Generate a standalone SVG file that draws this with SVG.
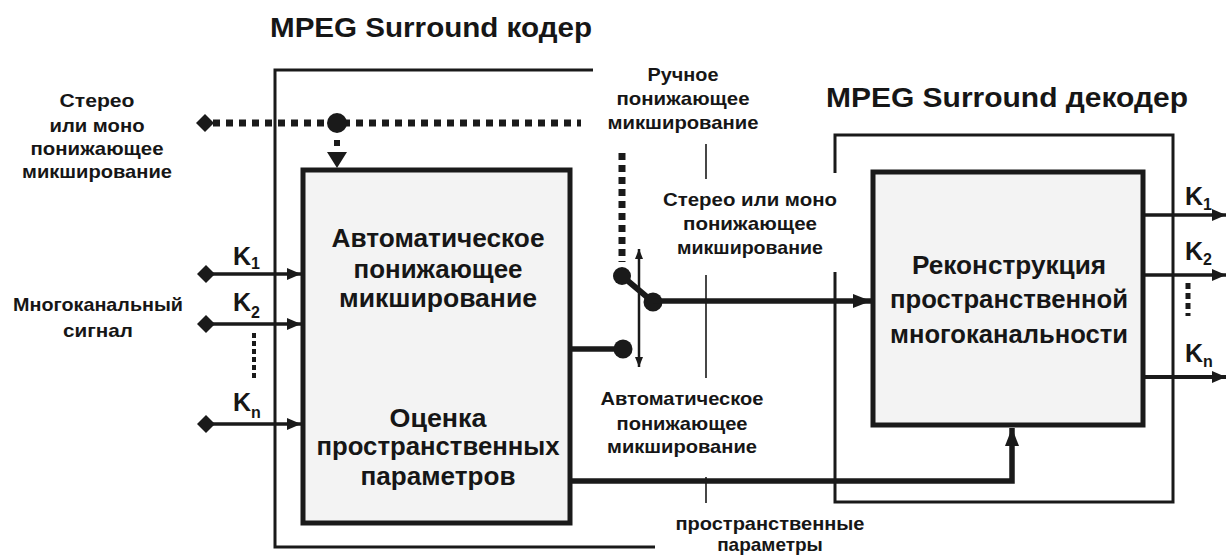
<svg xmlns="http://www.w3.org/2000/svg" width="1229" height="556" viewBox="0 0 1229 556">
<style>
.t{font-family:"Liberation Sans",Arial,sans-serif;font-weight:bold;fill:#161616}
.s{font-size:19px}
.m{font-size:26px}
.h{font-size:28px}
.k{font-size:25px}
.sub{font-size:16px}
.c{text-anchor:middle}
.frame{fill:none;stroke:#1a1a1a;stroke-width:3}
.box{fill:#f3f3f3;stroke:#1a1a1a;stroke-width:5}
.thin{fill:none;stroke:#1a1a1a;stroke-width:1.6}
.ln{fill:none;stroke:#1a1a1a}
.dot{fill:#1a1a1a}
</style>
<defs>
<marker id="arr" viewBox="0 0 14 12" refX="14" refY="6" markerWidth="14" markerHeight="12" markerUnits="userSpaceOnUse" orient="auto">
<path d="M0,0 L14,6 L0,12 z" fill="#1a1a1a"/>
</marker>
<marker id="arrB" viewBox="0 0 18 14" refX="18" refY="7" markerWidth="18" markerHeight="14" markerUnits="userSpaceOnUse" orient="auto">
<path d="M0,0 L18,7 L0,14 z" fill="#1a1a1a"/>
</marker>
<marker id="sm" viewBox="0 0 10 8" refX="10" refY="4" markerWidth="10" markerHeight="8" markerUnits="userSpaceOnUse" orient="auto-start-reverse">
<path d="M0,0 L10,4 L0,8 z" fill="#1a1a1a"/>
</marker>
<marker id="dia" viewBox="0 0 18 18" refX="9" refY="9" markerWidth="18" markerHeight="18" markerUnits="userSpaceOnUse" orient="0">
<path d="M0,9 L9,0 L18,9 L9,18 z" fill="#1a1a1a"/>
</marker>
</defs>
<rect width="1229" height="556" fill="#ffffff"/>

<g id="encoder-frame">
<path class="frame" d="M593,70 H275 V547 H655"/>
<text class="t h" x="270" y="37" textLength="322" lengthAdjust="spacingAndGlyphs">MPEG Surround кодер</text>
</g>

<g id="decoder-frame">
<path class="frame" d="M835,173 V135 H1173 V502 H835 V272"/>
<text class="t h" x="826" y="107" textLength="362" lengthAdjust="spacingAndGlyphs">MPEG Surround декодер</text>
</g>

<g id="dividers">
<path class="thin" d="M706,144 V179 M706,275 V378 M706,477 V503"/>
</g>

<g id="encoder-box">
<rect class="box" x="303" y="170" width="267" height="353"/>
<text class="t m c" x="438" y="247" textLength="213" lengthAdjust="spacingAndGlyphs">Автоматическое</text>
<text class="t m c" x="438" y="278" textLength="169" lengthAdjust="spacingAndGlyphs">понижающее</text>
<text class="t m c" x="438" y="307" textLength="198" lengthAdjust="spacingAndGlyphs">микширование</text>
<text class="t m c" x="438" y="427" textLength="97" lengthAdjust="spacingAndGlyphs">Оценка</text>
<text class="t m c" x="438" y="455" textLength="243" lengthAdjust="spacingAndGlyphs">пространственных</text>
<text class="t m c" x="438" y="485" textLength="155" lengthAdjust="spacingAndGlyphs">параметров</text>
</g>

<g id="decoder-box">
<rect class="box" x="873" y="172" width="270" height="253"/>
<text class="t m c" x="1009" y="274" textLength="194" lengthAdjust="spacingAndGlyphs">Реконструкция</text>
<text class="t m c" x="1009" y="308" textLength="238" lengthAdjust="spacingAndGlyphs">пространственной</text>
<text class="t m c" x="1009" y="343" textLength="238" lengthAdjust="spacingAndGlyphs">многоканальности</text>
</g>

<g id="label-stereo-in">
<text class="t s c" x="97" y="107" textLength="75" lengthAdjust="spacingAndGlyphs">Стерео</text>
<text class="t s c" x="97" y="132" textLength="95" lengthAdjust="spacingAndGlyphs">или моно</text>
<text class="t s c" x="97" y="155" textLength="133" lengthAdjust="spacingAndGlyphs">понижающее</text>
<text class="t s c" x="97" y="178" textLength="150" lengthAdjust="spacingAndGlyphs">микширование</text>
</g>

<g id="label-multichannel">
<text class="t s c" x="98" y="311" textLength="170" lengthAdjust="spacingAndGlyphs">Многоканальный</text>
<text class="t s c" x="98" y="337" textLength="70" lengthAdjust="spacingAndGlyphs">сигнал</text>
</g>

<g id="label-manual">
<text class="t s c" x="683" y="81" textLength="71" lengthAdjust="spacingAndGlyphs">Ручное</text>
<text class="t s c" x="683" y="105" textLength="133" lengthAdjust="spacingAndGlyphs">понижающее</text>
<text class="t s c" x="683" y="129" textLength="151" lengthAdjust="spacingAndGlyphs">микширование</text>
</g>

<g id="label-stereo-mid">
<text class="t s c" x="750" y="206" textLength="174" lengthAdjust="spacingAndGlyphs">Стерео или моно</text>
<text class="t s c" x="750" y="230" textLength="134" lengthAdjust="spacingAndGlyphs">понижающее</text>
<text class="t s c" x="750" y="254" textLength="146" lengthAdjust="spacingAndGlyphs">микширование</text>
</g>

<g id="label-auto">
<text class="t s c" x="682" y="405" textLength="163" lengthAdjust="spacingAndGlyphs">Автоматическое</text>
<text class="t s c" x="682" y="430" textLength="131" lengthAdjust="spacingAndGlyphs">понижающее</text>
<text class="t s c" x="682" y="453" textLength="150" lengthAdjust="spacingAndGlyphs">микширование</text>
</g>

<g id="label-params">
<text class="t s c" x="770" y="530" textLength="189" lengthAdjust="spacingAndGlyphs">пространственные</text>
<text class="t s c" x="770" y="551">параметры</text>
</g>

<g id="labels-k-in">
<text class="t k" x="233" y="265">K<tspan class="sub" dy="4">1</tspan></text>
<text class="t k" x="233" y="311">K<tspan class="sub" dy="7">2</tspan></text>
<text class="t k" x="233" y="411">K<tspan class="sub" dy="7">n</tspan></text>
</g>

<g id="labels-k-out">
<text class="t k" x="1185" y="205">K<tspan class="sub" dy="5">1</tspan></text>
<text class="t k" x="1185" y="260">K<tspan class="sub" dy="5">2</tspan></text>
<text class="t k" x="1185" y="362">K<tspan class="sub" dy="5">n</tspan></text>
</g>

<g id="connectors">
<path class="ln" stroke-width="3.5" d="M206,274 H301" marker-start="url(#dia)" marker-end="url(#arr)"/>
<path class="ln" stroke-width="3.5" d="M206,324 H301" marker-start="url(#dia)" marker-end="url(#arr)"/>
<path class="ln" stroke-width="3.5" d="M206,424 H301" marker-start="url(#dia)" marker-end="url(#arr)"/>
<path class="ln" stroke-width="4" stroke-dasharray="5 3" d="M254,333 V378"/>

<path class="ln" stroke-width="7" stroke-dasharray="7 6" stroke-dashoffset="-8" d="M205,123 H581" marker-start="url(#dia)"/>
<circle class="dot" cx="337" cy="123" r="10"/>
<rect class="dot" x="334" y="140" width="6" height="6"/>
<path class="dot" d="M327,152 H347 L337,168 z"/>

<path class="ln" stroke-width="7" stroke-dasharray="7 5" d="M622,153 V262"/>
<path class="ln" stroke-width="6" d="M622,276 L653,302"/>
<circle class="dot" cx="622" cy="276" r="9"/>
<circle class="dot" cx="653" cy="302" r="9.5"/>
<path class="ln" stroke-width="2.5" d="M639,249 V367" marker-start="url(#sm)" marker-end="url(#sm)"/>
<path class="ln" stroke-width="5.5" d="M572,349 H623"/>
<circle class="dot" cx="623" cy="349" r="9.5"/>
<path class="ln" stroke-width="5.5" d="M653,301 H871" marker-end="url(#arrB)"/>

<path class="ln" stroke-width="5.5" d="M572,481 H1012 V428" marker-end="url(#arrB)"/>

<path class="ln" stroke-width="3.5" d="M1145,215 H1226" marker-end="url(#arr)"/>
<path class="ln" stroke-width="3.5" d="M1145,275 H1226" marker-end="url(#arr)"/>
<path class="ln" stroke-width="4" d="M1145,377 H1226" marker-end="url(#arr)"/>
<path class="ln" stroke-width="5" stroke-dasharray="6 4" d="M1188,283 V316"/>
</g>
</svg>
